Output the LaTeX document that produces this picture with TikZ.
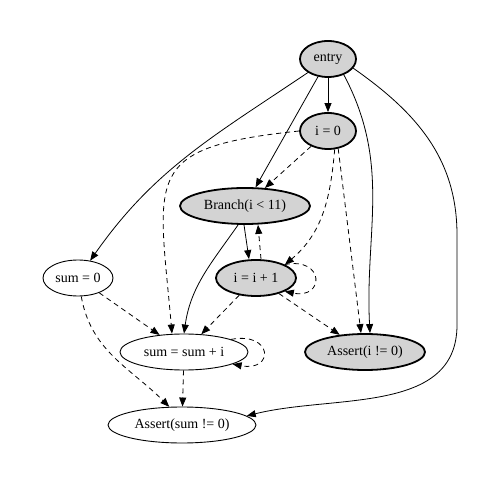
\documentclass[tikz,border=0pt]{standalone}
\usepackage{fontspec}
\setmainfont{Liberation Serif}
\usepackage{tikz}
\usetikzlibrary{shapes.geometric, arrows.meta}

\definecolor{nodegray}{HTML}{D3D3D3}

\tikzset{
    stmt/.style={ellipse, draw, line width=0.9pt, minimum height=36pt, inner sep=1pt,
        font=\fontsize{14}{16}\selectfont},
    live/.style={stmt, fill=nodegray, line width=1.8pt},
    ctrl/.style={line width=0.8pt, -{Triangle[length=9pt, width=7pt]}},
    data/.style={ctrl, dash pattern=on 5pt off 4pt},
}

\begin{document}
\begin{tikzpicture}[x=1pt, y=1pt]
            \useasboundingbox (0, 0) rectangle (498, 485);

            \node[live, minimum width=56pt] (entry) at (328, 426) {entry};
            \node[live, minimum width=56pt] (i0) at (328, 354) {i = 0};
            \node[live, minimum width=130pt] (branch) at (245, 279) {Branch(i < 11)};
            \node[live, minimum width=80pt] (incr) at (256, 207) {i = i + 1};
            \node[stmt, minimum width=70pt] (sum0) at (78, 207) {sum = 0};
            \node[stmt, minimum width=128pt] (acc) at (184, 133) {sum = sum + i};
            \node[live, minimum width=120pt] (asserti) at (365, 133) {Assert(i != 0)};
            \node[stmt, minimum width=148pt] (assertsum) at (182, 60) {Assert(sum != 0)};

            % control flow
            \draw[ctrl] (entry) -- (i0);
            \draw[ctrl] (entry) -- (branch);
            \draw[ctrl] (entry) to[out=214, in=55] (sum0);
            \draw[ctrl] (entry.-45) to[out=-62, in=93] ([xshift=5pt]asserti.north);
            \draw[ctrl] (entry.-20) to[out=-35, in=90] (457, 250) -- (457, 160) to[out=-90, in=14] (assertsum.8);
            \draw[ctrl] ([xshift=-1pt]branch.south) -- ([xshift=-7pt]incr.north);
            \draw[ctrl] (branch.-110) to[out=-125, in=82] (acc.north);

            % data flow
            \draw[data] (i0) -- (branch);
            \draw[data] (i0.west) to[out=186, in=95, looseness=1.7] ([xshift=-12pt]acc.north);
            \draw[data] (i0.-70) to[out=-95, in=40] (incr.north east);
            \draw[data] (i0.-60) -- ([xshift=-4pt]asserti.north);
            \draw[data] ([xshift=5pt]incr.north) -- ([xshift=13pt]branch.south);
            \draw[data] (incr.25) .. controls +(40, 8) and +(40, -8) .. (incr.-25);
            \draw[data] (incr) -- (acc);
            \draw[data] (incr) -- (asserti);
            \draw[data] (sum0) -- (acc);
            \draw[data] (sum0.-80) to[out=-80, in=135] (assertsum.125);
            \draw[data] (acc.15) .. controls +(42, 8) and +(42, -8) .. (acc.-14);
            \draw[data] (acc) -- (assertsum);
        \end{tikzpicture}
\end{document}
